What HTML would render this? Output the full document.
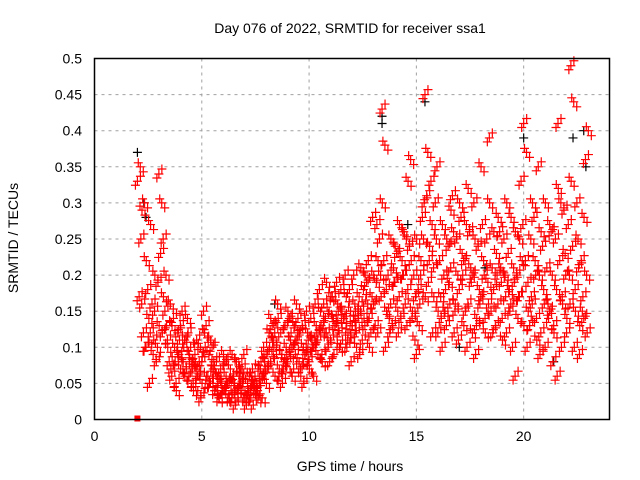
<!DOCTYPE html>
<html><head><meta charset="utf-8"><style>
html,body{margin:0;padding:0;background:#fff;}
svg{display:block;font-family:"Liberation Sans",sans-serif;}
</style></head><body>
<svg id="chart" width="640" height="480" viewBox="0 0 640 480">
<rect width="640" height="480" fill="#fff"/>
<text x="350" y="33" font-size="14" text-anchor="middle">Day 076 of 2022, SRMTID for receiver ssa1</text>
<text x="350" y="471" font-size="14" text-anchor="middle">GPS time / hours</text>
<text x="18" y="238" font-size="14" text-anchor="middle" transform="rotate(-90 18 238)">SRMTID / TECUs</text>
<g id="grid"></g><g id="ticks"></g><g id="black"></g><g id="red"></g>
<rect x="94.5" y="58.5" width="515" height="361" fill="none" stroke="#000" stroke-width="1.5"/>
</svg>
<script>
const xTicks=[0,5,10,15,20];
const yTicks=[0,0.05,0.1,0.15,0.2,0.25,0.3,0.35,0.4,0.45,0.5];
const yTickLabels=["0","0.05","0.1","0.15","0.2","0.25","0.3","0.35","0.4","0.45","0.5"];
const times=[2.0,2.2,2.4,2.6,2.8,3.0,3.2,3.4,3.6,3.8,4.0,4.2,4.4,4.6,4.8,5.0,5.2,5.4,5.6,5.8,6.0,6.2,6.4,6.6,6.8,7.0,7.2,7.4,7.6,7.8,8.0,8.2,8.4,8.6,8.8,9.0,9.2,9.4,9.6,9.8,10.0,10.2,10.4,10.6,10.8,11.0,11.2,11.4,11.6,11.8,12.0,12.2,12.4,12.6,12.8,13.0,13.2,13.4,13.6,13.8,14.0,14.2,14.4,14.6,14.8,15.0,15.2,15.4,15.6,15.8,16.0,16.2,16.4,16.6,16.8,17.0,17.2,17.4,17.6,17.8,18.0,18.2,18.4,18.6,18.8,19.0,19.2,19.4,19.6,19.8,20.0,20.2,20.4,20.6,20.8,21.0,21.2,21.4,21.6,21.8,22.0,22.2,22.4,22.6,22.8];
const redValues=[
[.33,.35,.17,.29,.25],[.16,.3,.12,.22,.1],[.1,.14,.18,.27,.05],[.12,.09,.16,.2,.11],[.15,.1,.08,.13,.19],
[.34,.3,.23,.17,.12],[.25,.2,.15,.1,.13],[.11,.16,.08,.13,.07],[.06,.1,.14,.04,.08],[.05,.09,.12,.07,.11],
[.13,.08,.15,.06,.1],[.11,.14,.07,.09,.12],[.06,.08,.1,.04,.07],[.05,.07,.09,.04,.11],[.06,.1,.08,.05,.03],
[.08,.12,.15,.06,.1],[.13,.09,.06,.11,.05],[.05,.07,.1,.04,.08],[.04,.06,.08,.03,.05],[.03,.05,.07,.09,.04],
[.04,.06,.08,.03,.05],[.05,.07,.03,.09,.04],[.03,.05,.06,.08,.02],[.04,.06,.03,.07,.05],[.05,.03,.07,.04,.09],
[.03,.05,.02,.06,.04],[.04,.06,.03,.05,.07],[.02,.04,.06,.03,.05],[.04,.07,.05,.03,.08],[.06,.08,.1,.05,.07],
[.09,.12,.07,.14,.1],[.08,.11,.13,.06,.1],[.12,.16,.09,.07,.14],[.06,.09,.12,.08,.05],[.07,.1,.13,.15,.09],
[.08,.11,.14,.06,.12],[.1,.13,.07,.16,.09],[.11,.08,.14,.06,.12],[.07,.1,.13,.09,.05],[.09,.12,.15,.07,.11],
[.08,.11,.14,.06,.1],[.1,.13,.16,.09,.12],[.11,.15,.18,.08,.13],[.09,.12,.16,.19,.14],[.12,.15,.1,.17,.08],
[.11,.14,.17,.13,.09],[.13,.16,.19,.1,.15],[.12,.15,.18,.14,.11],[.14,.17,.2,.12,.1],[.11,.15,.18,.13,.08],
[.13,.16,.2,.1,.15],[.12,.17,.14,.21,.09],[.15,.18,.11,.2,.14],[.13,.16,.19,.1,.22],[.14,.17,.12,.2,.28],
[.16,.19,.13,.22,.27],[.12,.2,.25,.3,.17],[.43,.38,.22,.15,.1],[.18,.14,.2,.25,.12],[.16,.21,.13,.24,.19],
[.19,.15,.23,.27,.12],[.17,.22,.14,.26,.2],[.2,.25,.16,.33,.13],[.18,.36,.24,.15,.22],[.14,.11,.2,.25,.17],
[.09,.13,.18,.22,.16],[.2,.25,.28,.17,.3],[.45,.37,.31,.24,.19],[.22,.27,.33,.17,.12],[.21,.25,.3,.15,.35],
[.12,.17,.22,.27,.14],[.1,.15,.2,.25,.18],[.13,.19,.24,.29,.16],[.21,.26,.31,.16,.12],[.15,.2,.25,.3,.11],
[.18,.23,.28,.13,.2],[.22,.27,.15,.32,.1],[.16,.21,.26,.12,.19],[.2,.25,.3,.14,.09],[.13,.18,.24,.35,.16],
[.17,.22,.27,.12,.2],[.14,.19,.25,.3,.16],[.39,.21,.15,.26,.12],[.18,.23,.13,.28,.2],[.16,.21,.26,.11,.19],
[.14,.2,.25,.3,.17],[.12,.18,.23,.28,.15],[.16,.21,.1,.26,.19],[.06,.14,.2,.25,.17],[.17,.22,.33,.13,.27],
[.41,.37,.22,.15,.1],[.19,.25,.13,.3,.17],[.16,.22,.28,.11,.2],[.14,.2,.35,.26,.09],[.12,.18,.24,.3,.16],
[.1,.16,.21,.27,.14],[.15,.2,.26,.12,.08],[.13,.18,.25,.32,.06],[.41,.3,.22,.16,.1],[.17,.23,.29,.14,.2],
[.12,.2,.27,.33,.16],[.49,.44,.24,.15,.1],[.18,.25,.3,.13,.21],[.09,.15,.22,.28,.17],[.14,.2,.36,.4,.12]];
const blackTimes=[2.0,2.3,2.4,8.4,13.4,13.4,15.4,18.2,20.0,21.4,22.3,22.8,22.9,17.0,14.6];
const blackValues=[.37,.3,.28,.16,.42,.41,.44,.21,.39,.08,.39,.4,.35,.1,.27];
const xs=t=>94.5+t*(515/24);
const ys=v=>419.5-v*(361/0.5);
const NS="http://www.w3.org/2000/svg";
function mk(tag,attrs,parent){const e=document.createElementNS(NS,tag);for(const k in attrs)e.setAttribute(k,attrs[k]);parent.appendChild(e);return e;}
const grid=document.getElementById('grid'),ticks=document.getElementById('ticks');
xTicks.forEach(t=>{const x=xs(t);
 if(t>0){const g=mk('line',{x1:x,x2:x,y1:58.5,y2:419.5,stroke:'#a0a0a0','stroke-dasharray':'3,4'},grid);
 
 }
 const l=mk('text',{x:x,y:441,'font-size':'14','text-anchor':'middle'},ticks);l.textContent=t;
 
 });
yTicks.forEach((v,i)=>{const y=ys(v);
 if(v>0&&v<0.5){const g=mk('line',{x1:94.5,x2:609.5,y1:y,y2:y,stroke:'#a0a0a0','stroke-dasharray':'3,4'},grid);
 
 }
 const l=mk('text',{x:82,y:y+5,'font-size':'14','text-anchor':'end'},ticks);l.textContent=yTickLabels[i];
 
 });
function cross(x,y,col,parent){return mk('path',{d:`M${x-4.5} ${y}H${x+4.5}M${x} ${y-4.5}V${y+4.5}`,stroke:col,'stroke-width':'1.2',fill:'none'},parent);}
const bg=document.getElementById('black'),rg=document.getElementById('red');
blackTimes.forEach((t,i)=>{const p=cross(xs(t),ys(blackValues[i]),'#000',bg);
 
 });
const dupDx=[0,3,-2],dupDy=[0,5,-4];
times.forEach((t,i)=>{redValues[i].forEach((v,j)=>{
 dupDx.forEach((dx,k)=>{
  const p=cross(xs(t+j*0.04)+dx+(j%2)*2,ys(v)+dupDy[k]*((j%2)?1:-1),'#f00',rg);
  
  
 });});});
const sq=mk('rect',{x:xs(2.0)-3,y:ys(0)-4,width:6,height:6,fill:'#f00'},rg);


</script>
</body></html>
